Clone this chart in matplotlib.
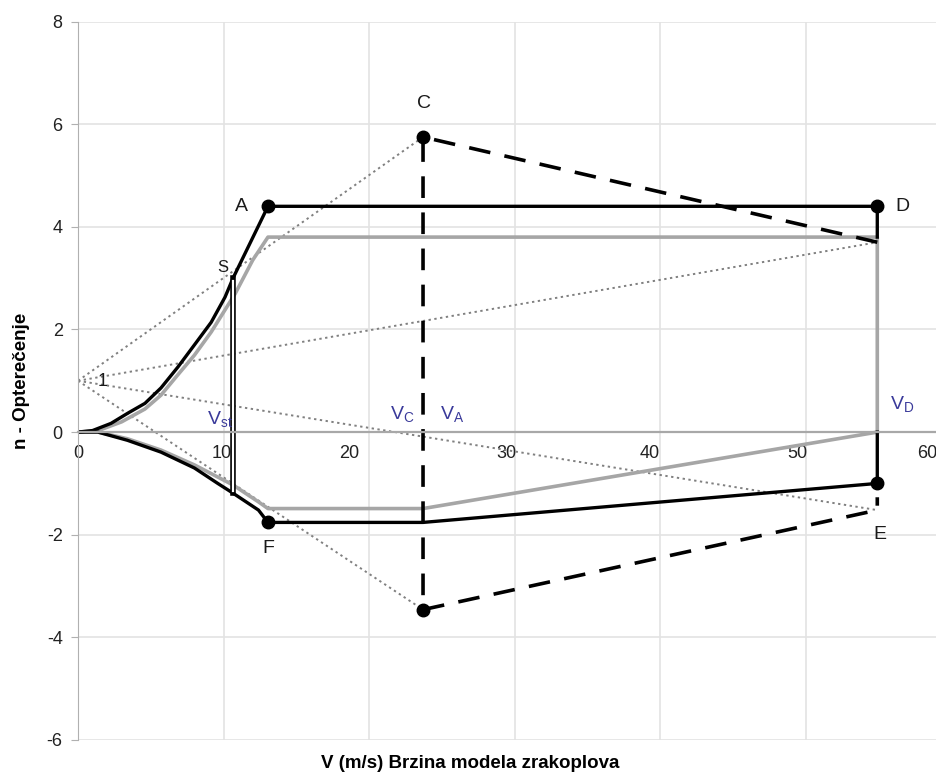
import matplotlib
matplotlib.use("Agg")
import matplotlib.pyplot as plt
from matplotlib.transforms import ScaledTranslation

plt.rcParams["font.family"] = ["Liberation Sans", "DejaVu Sans"]
plt.rcParams["axes.unicode_minus"] = False

# ── data (V in m/s, n load factor) ──
V_ST, V_A, V_C, V_D = 10.65, 13.05, 23.7, 54.9

# black envelope
blk_up_v = [0, 1.0, 2.27, 3.43, 4.6, 5.7, 6.87, 8.0, 9.15, 10.1, V_ST, V_A, V_D, V_D]
blk_up_n = [0, 0.03, 0.17, 0.37, 0.56, 0.86, 1.27, 1.70, 2.14, 2.63, 3.0, 4.4, 4.4, 3.8]
blk_lo_v = [0, 1.37, 3.4, 5.7, 8.0, 9.6, V_ST, 12.4, V_A, V_C, V_D, V_D]
blk_lo_n = [0, 0, -0.16, -0.39, -0.70, -1.0, -1.19, -1.52, -1.76, -1.76, -1.0, 0]

# gray envelope
gry_up_v = [0, 1.4, 3.0, 4.6, 5.7, 6.87, 8.0, 9.15, 10.8, 12.0, V_A, V_D, V_D]
gry_up_n = [0, 0.03, 0.2, 0.45, 0.72, 1.12, 1.5, 1.95, 2.7, 3.35, 3.8, 3.8, 0]
gry_lo_v = [0, 1.4, 3.4, 5.7, 8.0, V_ST, 12.4, V_A, V_C, V_D]
gry_lo_n = [0, 0, -0.13, -0.35, -0.64, -1.03, -1.36, -1.49, -1.49, 0]

# dashed gust lines
dash_up_v = [V_D, V_C, V_C]
dash_up_n = [3.7, 5.75, -3.46]
dash_lo_v = [V_C, V_D, V_D]
dash_lo_n = [-3.46, -1.52, -1.27]

# dotted gust rays from n = 1
ray_end_v = [V_C, V_D, V_D, V_C]
ray_end_n = [5.75, 3.7, -1.52, -3.46]

# marked points
pts_v = [V_A, V_C, V_D, V_D, V_A, V_C]
pts_n = [4.4, 5.75, 4.4, -1.0, -1.76, -3.46]

# x tick label nudges (px), as placed in the reference
xlab_shift = [0, -2, -20, -8, -11, -9, -24]

fig = plt.figure(figsize=(9.36, 7.76), dpi=100, facecolor="white")
ax = fig.add_axes([0.0833, 0.0464, 0.9333, 0.9258])
ax.set_xlim(0, 60)
ax.set_ylim(-6, 8)
ax.set_xticks(range(0, 61, 10))
ax.set_yticks(range(-6, 9, 2))
ax.grid(True, color="#e3e3e3", linewidth=1.2)
ax.set_axisbelow(True)

for s in ["top", "right"]:
    ax.spines[s].set_visible(False)
ax.spines["left"].set_color("#b0b0b0")
ax.spines["bottom"].set_position(("data", 0))
ax.spines["bottom"].set_color("#a8a8a8")
ax.spines["bottom"].set_linewidth(1.6)
ax.tick_params(axis="x", length=0, pad=9, labelsize=13, colors="#222222")
ax.tick_params(axis="y", length=5, color="#b0b0b0", labelsize=13, colors="#222222", pad=6)
for lab, dx in zip(ax.get_xticklabels(), xlab_shift):
    lab.set_transform(lab.get_transform() + ScaledTranslation(dx / 100, 0, fig.dpi_scale_trans))

# dotted rays
for ve, ne in zip(ray_end_v, ray_end_n):
    ax.plot([0, ve], [1, ne], linestyle=(0, (1.2, 1.8)), color="#808080", linewidth=1.4)

# gray envelope
ax.plot(gry_up_v, gry_up_n, color="#a6a6a6", linewidth=2.6, solid_joinstyle="round")
ax.plot(gry_lo_v, gry_lo_n, color="#a6a6a6", linewidth=2.6, solid_joinstyle="round")

# black envelope
ax.plot(blk_up_v, blk_up_n, color="black", linewidth=2.4, solid_joinstyle="round")
ax.plot(blk_lo_v, blk_lo_n, color="black", linewidth=2.4, solid_joinstyle="round")

# V_st double line
ax.plot([V_ST, V_ST], [3.0, -1.19], color="black", linewidth=4.0)
ax.plot([V_ST, V_ST], [2.95, -1.14], color="white", linewidth=1.6)

# dashed gust envelope
ax.plot(dash_up_v, dash_up_n, color="black", linewidth=2.6, linestyle=(0, (6, 4)))
ax.plot(dash_lo_v, dash_lo_n, color="black", linewidth=2.6, linestyle=(0, (6, 4)))

ax.plot(pts_v, pts_n, "o", color="black", markersize=9, linestyle="none")

# point letters
for txt, x, y, fs in [("A", 11.2, 4.39, 14), ("C", 23.76, 6.41, 14), ("D", 56.6, 4.39, 14),
                      ("E", 55.1, -2.0, 14), ("F", 13.05, -2.26, 14), ("S", 9.96, 3.2, 12),
                      ("1", 1.7, 0.99, 13)]:
    ax.text(x, y, txt, fontsize=fs, ha="center", va="center", color="#1a1a1a")

blue = "#3a3a9a"
for txt, x, y in [(r"$\mathregular{V_{st}}$", 9.75, 0.25), (r"$\mathregular{V_C}$", 22.3, 0.35),
                  (r"$\mathregular{V_A}$", 25.7, 0.35), (r"$\mathregular{V_D}$", 56.6, 0.55)]:
    ax.text(x, y, txt, fontsize=14, ha="center", va="center", color=blue)

ax.set_ylabel("n - Opterečenje", fontsize=13.5, fontweight="bold", labelpad=12)
fig.text(470 / 936, 1 - 763 / 776, "V (m/s) Brzina modela zrakoplova",
         fontsize=13.5, fontweight="bold", ha="center", va="center")

fig.savefig("out.png", dpi=100, facecolor="white")
